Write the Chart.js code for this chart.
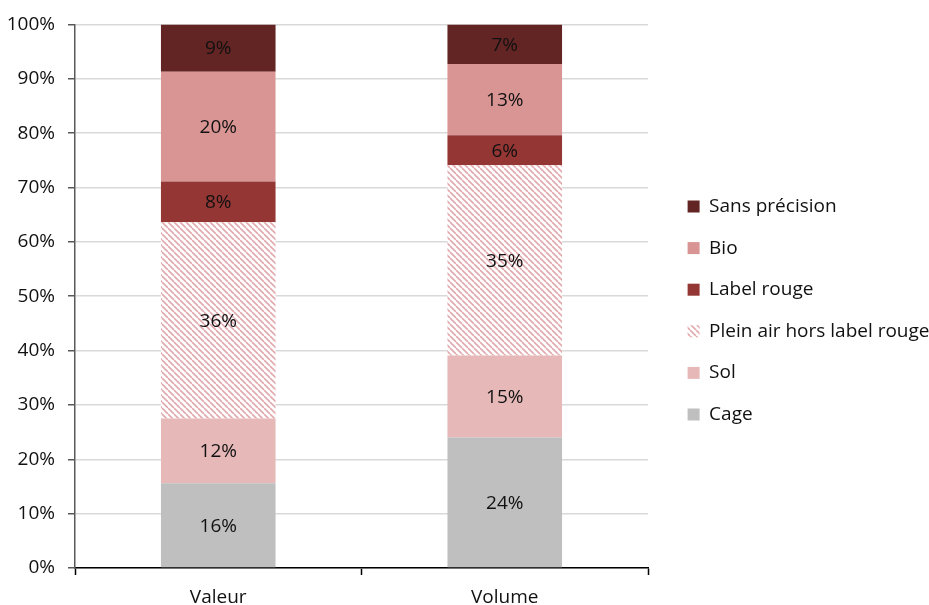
<!DOCTYPE html>
<html>
<head>
<meta charset="utf-8">
<script src="https://cdn.jsdelivr.net/npm/chart.js@4.4.0/dist/chart.umd.min.js"></script>
<style>
    html, body { margin: 0; padding: 0; background: #ffffff; }
    #wrap { width: 929px; height: 605px; }
</style>
</head>
<body>
<div id="wrap"><canvas id="chart" width="929" height="605"></canvas></div>
<script>
var categories = ["Valeur", "Volume"];

// parts en %
var cage = [15.6, 24.0];
var sol = [11.9, 15.1];
var pleinAir = [36.1, 35.0];
var labelRouge = [7.5, 5.5];
var bio = [20.2, 13.1];
var sansPrecision = [8.7, 7.3];

// étiquettes affichées dans les barres
var cageLabels = ["16%", "24%"];
var solLabels = ["12%", "15%"];
var pleinAirLabels = ["36%", "35%"];
var labelRougeLabels = ["8%", "6%"];
var bioLabels = ["20%", "13%"];
var sansPrecisionLabels = ["9%", "7%"];

var yTicks = [0, 10, 20, 30, 40, 50, 60, 70, 80, 90, 100];

function hachures() {
    var c = document.createElement('canvas');
    c.width = 6;
    c.height = 6;
    var g = c.getContext('2d');
    g.fillStyle = '#ffffff';
    g.fillRect(0, 0, 6, 6);
    g.strokeStyle = '#e2a9ad';
    g.lineWidth = 1.6;
    for (var k = -1; k <= 1; k++) {
        g.beginPath();
        g.moveTo(k * 6, 0);
        g.lineTo(k * 6 + 6, 6);
        g.stroke();
    }
    return g.createPattern(c, 'repeat');
}

var police = "'Open Sans', Lato, sans-serif";

// étiquettes au centre des segments
var etiquettes = {
    id: 'etiquettes',
    afterDatasetsDraw: function (chart) {
        var ctx = chart.ctx;
        ctx.save();
        ctx.font = '19px ' + police;
        ctx.fillStyle = '#111111';
        ctx.textAlign = 'center';
        ctx.textBaseline = 'middle';
        chart.data.datasets.forEach(function (ds, i) {
            var meta = chart.getDatasetMeta(i);
            meta.data.forEach(function (bar, j) {
                ctx.fillText(ds.etiquettes[j], bar.x, (bar.y + bar.base) / 2 + 1);
            });
        });
        ctx.restore();
    }
};

// largeur de légende fixe, items décalés vers la droite
var decalageLegende = {
    id: 'decalageLegende',
    beforeLayout: function (chart) {
        var lg = chart.legend;
        if (lg && !lg._largeurFixe) {
            var fitOrig = lg.fit.bind(lg);
            lg.fit = function () {
                fitOrig();
                this.width = 281;
            };
            lg._largeurFixe = true;
        }
    },
    afterLayout: function (chart) {
        var lg = chart.legend;
        lg.left += 17;
        lg.right += 17;
        lg.top -= 2;
        lg.bottom -= 2;
    }
};

var datos = {
    labels: categories,
    datasets: [
        { label: "Cage", data: cage, etiquettes: cageLabels, backgroundColor: '#bfbfbf' },
        { label: "Sol", data: sol, etiquettes: solLabels, backgroundColor: '#e6b9b8' },
        { label: "Plein air hors label rouge", data: pleinAir, etiquettes: pleinAirLabels, backgroundColor: hachures() },
        { label: "Label rouge", data: labelRouge, etiquettes: labelRougeLabels, backgroundColor: '#943634' },
        { label: "Bio", data: bio, etiquettes: bioLabels, backgroundColor: '#d99594' },
        { label: "Sans précision", data: sansPrecision, etiquettes: sansPrecisionLabels, backgroundColor: '#632523' }
    ]
};

function dessiner() {
    var canvas = document.getElementById('chart').getContext('2d');
    window.graphique = new Chart(canvas, {
        type: 'bar',
        data: datos,
        plugins: [etiquettes, decalageLegende],
        options: {
            responsive: false,
            animation: false,
            layout: {
                padding: { top: 20, right: 0, bottom: 0, left: 0 }
            },
            datasets: {
                bar: {
                    barPercentage: 0.4,
                    categoryPercentage: 1.0,
                    borderWidth: 0
                }
            },
            plugins: {
                legend: {
                    position: 'right',
                    reverse: true,
                    labels: {
                        boxWidth: 12,
                        boxHeight: 12,
                        padding: 22.6,
                        color: '#111111',
                        font: { family: police, size: 19 }
                    }
                },
                tooltip: { enabled: false },
                title: { display: false }
            },
            scales: {
                x: {
                    stacked: true,
                    afterFit: function (axis) {
                        axis.height = 37;
                    },
                    grid: {
                        drawOnChartArea: false,
                        drawTicks: true,
                        tickLength: 7,
                        tickColor: '#000000',
                        tickWidth: 1.5
                    },
                    border: { color: '#000000', width: 1.5 },
                    ticks: {
                        padding: 11,
                        color: '#111111',
                        font: { family: police, size: 19 }
                    }
                },
                y: {
                    stacked: true,
                    min: 0,
                    max: 100,
                    afterBuildTicks: function (axis) {
                        axis.ticks = yTicks.map(function (v) { return { value: v }; });
                    },
                    afterFit: function (axis) {
                        axis.width = 75;
                    },
                    grid: {
                        color: '#d9d9d9',
                        lineWidth: 1.5,
                        tickLength: 7,
                        tickColor: '#595959',
                        tickWidth: 1.5
                    },
                    border: { color: '#595959', width: 1.5 },
                    ticks: {
                        padding: 13,
                        color: '#111111',
                        font: { family: police, size: 19 },
                        callback: function (v) { return v + '%'; }
                    }
                }
            }
        }
    });
}

if (document.fonts && document.fonts.load) {
    document.fonts.load("19px 'Open Sans'").then(dessiner, dessiner);
} else {
    dessiner();
}
</script>
</body>
</html>
